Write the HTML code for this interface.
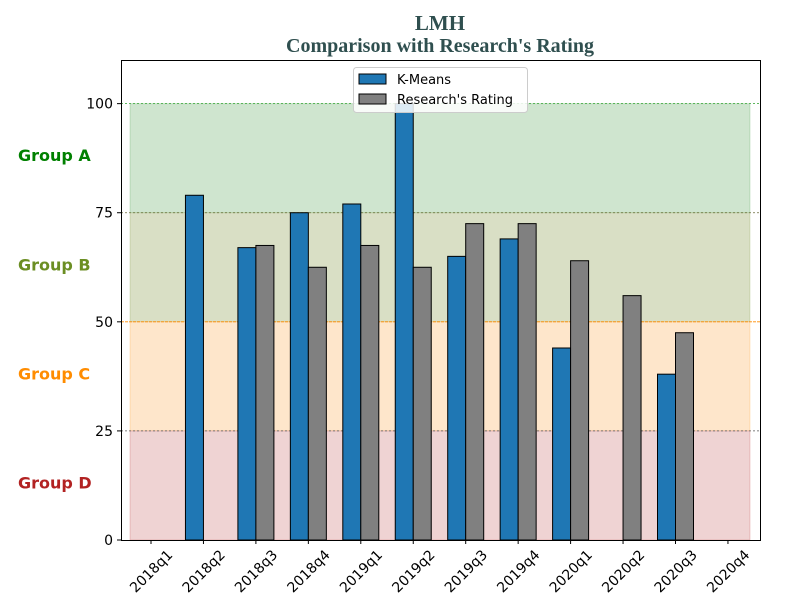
<!DOCTYPE html>
<html><head><meta charset="utf-8"><style>
body{margin:0;background:#fff;}
svg{display:block;font-family:"DejaVu Sans","Liberation Sans",sans-serif;}
</style></head><body>
<svg id="chart" width="800" height="600">
<text x="440" y="30" text-anchor="middle" font-family="Liberation Serif" font-weight="bold" font-size="21" fill="#2f4f4f">LMH</text>
<text x="440" y="52" text-anchor="middle" font-family="Liberation Serif" font-weight="bold" font-size="20" fill="#2f4f4f">Comparison with Research's Rating</text>
<g id="bands"></g><g id="bars"></g><g id="axes"></g>
<g>
<rect x="353.5" y="67.5" width="174" height="45" rx="3" fill="#fff" fill-opacity="0.85" stroke="#ccc"/>
<rect x="359" y="74" width="27" height="10" fill="#1f77b4" stroke="#000"/>
<text x="397" y="84" font-size="13">K-Means</text>
<rect x="359" y="94" width="27" height="10" fill="#808080" stroke="#000"/>
<text x="397" y="104" font-size="13">Research's Rating</text>
</g>
</svg>
<script>
const categories=["2018q1","2018q2","2018q3","2018q4","2019q1","2019q2","2019q3","2019q4","2020q1","2020q2","2020q3","2020q4"];
const kmeans=[null,79,67,75,77,100,65,69,44,null,38,null];
const research=[null,null,67.5,62.5,67.5,62.5,72.5,72.5,64,56,47.5,null];
const yTicks=[0,25,50,75,100];
const groups=["Group A","Group B","Group C","Group D"];
const NS="http://www.w3.org/2000/svg";
const L=121,R=760,T=60,B=540;
const y=v=>B-v*(B-T)/110;
const x=i=>151+i*52.45;
function mk(p,t,a){const e=document.createElementNS(NS,t);for(const k in a)e.setAttribute(k,a[k]);p.appendChild(e);return e;}
const bands=document.getElementById('bands'),bars=document.getElementById('bars'),axes=document.getElementById('axes');
const bandDefs=[[75,100,"#cfe5cf","#2e8b2e"],[50,75,"#d9dfc5","#6b8e23"],[25,50,"#fee6cb","#ff8c00"],[0,25,"#efd3d3","#b22222"]];
const gcols=["#008000","#6b8e23","#ff8c00","#b22222"];
bandDefs.forEach((b,i)=>{
 const r=mk(bands,'rect',{x:130,y:y(b[1]),width:620,height:y(b[0])-y(b[1]),fill:b[2],stroke:b[3],'stroke-opacity':0.2});
 
 
 const t=mk(axes,'text',{x:18,y:(y(b[0])+y(b[1]))/2+3,'font-size':16,'font-weight':'bold',fill:gcols[i]});
 t.textContent=groups[i];
 
 
});
[[100,"#2ca02c","2,2"],[75,"#6b6b3a","2,2"],[50,"#ff8c00","3,1"],[25,"#555","2,2"]].forEach(l=>{
 mk(bands,'line',{x1:L,x2:R,y1:y(l[0]),y2:y(l[0]),stroke:l[1],'stroke-width':0.8,'stroke-dasharray':l[2]});
});
const bw=18;
categories.forEach((c,i)=>{
 if(kmeans[i]!=null){const r=mk(bars,'rect',{x:x(i)-bw,y:y(kmeans[i]),width:bw,height:B-y(kmeans[i]),fill:'#1f77b4',stroke:'#000'});
 
 }
 if(research[i]!=null){const r=mk(bars,'rect',{x:x(i),y:y(research[i]),width:bw,height:B-y(research[i]),fill:'#808080',stroke:'#000'});
 
 }
 mk(axes,'line',{x1:x(i),x2:x(i),y1:B,y2:B+4,stroke:'#000'});
 const t=mk(axes,'text',{x:0,y:5,'font-size':14,'text-anchor':'middle',transform:`translate(${x(i)},${B+31}) rotate(-45)`});
 t.textContent=c;
 
 
});
yTicks.forEach(v=>{
 mk(axes,'line',{x1:L-4,x2:L,y1:y(v),y2:y(v),stroke:'#000'});
 const t=mk(axes,'text',{x:L-8,y:y(v)+5,'font-size':14,'text-anchor':'end'});
 t.textContent=v;
 
 
});
const f=mk(axes,'rect',{x:L+0.5,y:T+0.5,width:R-L,height:B-T,fill:'none',stroke:'#000'});


</script>
</body></html>
